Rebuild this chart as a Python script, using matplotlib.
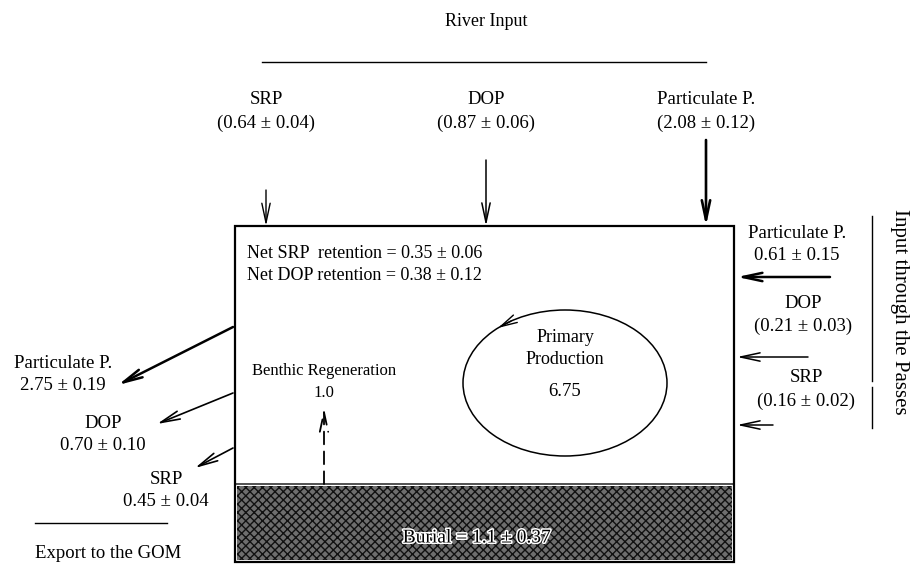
import numpy as np
import matplotlib.pyplot as plt
from matplotlib.patches import Rectangle, Ellipse
import matplotlib.patheffects as pe

plt.rcParams['font.family'] = ['Liberation Serif', 'DejaVu Serif']

# phosphorus budget values (labels as printed)
river_names = ['SRP', 'DOP', 'Particulate P.']
river_values = ['(0.64 ± 0.04)', '(0.87 ± 0.06)', '(2.08 ± 0.12)']
pass_names = ['Particulate P.', 'DOP', 'SRP']
pass_values = ['0.61 ± 0.15', '(0.21 ± 0.03)', '(0.16 ± 0.02)']
export_names = ['Particulate P.', 'DOP', 'SRP']
export_values = ['2.75 ± 0.19', '0.70 ± 0.10', '0.45 ± 0.04']
retention = ['Net SRP  retention = 0.35 ± 0.06', 'Net DOP retention = 0.38 ± 0.12']
primary_production = '6.75'
benthic = '1.0'
burial = 'Burial = 1.1 ± 0.37'

fig = plt.figure(figsize=(9.14, 5.67), dpi=100)
ax = fig.add_axes([0, 0, 1, 1])
ax.set_xlim(0, 914)
ax.set_ylim(567, 0)
ax.axis('off')

fs = 13.5
k = 'black'

def arrow(x0, y0, x1, y1, lw=1.0, ls='-', hw=0.3, hl=1.4):
    ax.annotate('', xy=(x1, y1), xytext=(x0, y0),
                arrowprops=dict(arrowstyle=f'->,head_length={hl},head_width={hw}',
                                lw=lw, color=k, linestyle=ls,
                                shrinkA=0, shrinkB=0))

# main box and sediment layer
ax.add_patch(Rectangle((235, 226), 499, 336, fill=False, lw=1.6, ec=k, zorder=3))
ax.add_patch(Rectangle((237, 486), 495, 74, fc='#6e6e6e', ec='#111111',
                       hatch='xxxx', lw=0))
ax.plot([235, 734], [484, 484], color='#333', lw=1.2)
ax.text(477, 538, burial, ha='center', va='center', fontsize=14, color=k,
        path_effects=[pe.withStroke(linewidth=2.2, foreground='white')])

# river input
ax.text(486, 22, 'River Input', ha='center', va='center', fontsize=13)
ax.plot([262, 706], [62, 62], color=k, lw=1)
river_x = [266, 486, 706]
river_top = [190, 160, 140]
river_lw = [1.0, 1.1, 1.9]
for x, name, val, y0, lw in zip(river_x, river_names, river_values, river_top, river_lw):
    ax.text(x, 99, name, ha='center', va='center', fontsize=fs)
    ax.text(x, 123, val, ha='center', va='center', fontsize=fs)
    arrow(x, y0, x, 226, lw=lw)

# retention text
ax.text(247, 253, retention[0], ha='left', va='center', fontsize=13)
ax.text(247, 275, retention[1], ha='left', va='center', fontsize=13)

# primary production loop
cx, cy, a, b = 565, 383, 102, 73
ax.add_patch(Ellipse((cx, cy), 2 * a, 2 * b, fill=False, lw=1.1, ec=k))
t0, t1 = np.radians(122), np.radians(131)
arrow(cx + a * np.cos(t0), cy - b * np.sin(t0), cx + a * np.cos(t1), cy - b * np.sin(t1),
      lw=1.0, hw=0.3, hl=1.2)
ax.text(cx, 338, 'Primary', ha='center', va='center', fontsize=13)
ax.text(cx, 360, 'Production', ha='center', va='center', fontsize=13)
ax.text(cx, 392, primary_production, ha='center', va='center', fontsize=fs)

# benthic regeneration
ax.text(324, 371, 'Benthic Regeneration', ha='center', va='center', fontsize=12)
ax.text(324, 393, benthic, ha='center', va='center', fontsize=12)
arrow(324, 484, 324, 408, lw=1.3, ls=(0, (7, 4)))

# input through the passes
pass_y = [(233, 255), (303, 326), (378, 401)]
pass_x = [797, 803, 806]
pass_arrow = [(830, 277, 1.8), (808, 357, 1.1), (773, 425, 1.1)]
for (y1, y2), x, name, val, (xa, ya, lw) in zip(pass_y, pass_x, pass_names, pass_values, pass_arrow):
    ax.text(x, y1, name, ha='center', va='center', fontsize=fs)
    ax.text(x, y2, val, ha='center', va='center', fontsize=fs)
    arrow(xa, ya, 737, ya, lw=lw)
ax.plot([872, 872], [216, 381], color=k, lw=1)
ax.plot([872, 872], [387, 428], color=k, lw=1)
ax.text(899, 312, 'Input through the Passes', ha='center', va='center',
        fontsize=15, rotation=270)

# export to the GOM
exp_x = [63, 103, 166]
exp_y = [(364, 386), (423, 445), (479, 502)]
exp_arrow = [(233, 327, 118, 385, 1.8), (233, 393, 157, 424, 1.2), (233, 448, 195, 468, 1.2)]
for x, (y1, y2), name, val, (x0, y0, x1, y1a, lw) in zip(exp_x, exp_y, export_names, export_values, exp_arrow):
    ax.text(x, y1, name, ha='center', va='center', fontsize=fs)
    ax.text(x, y2, val, ha='center', va='center', fontsize=fs)
    arrow(x0, y0, x1, y1a, lw=lw)
ax.plot([35, 167], [523, 523], color=k, lw=1)
ax.text(108, 553, 'Export to the GOM', ha='center', va='center', fontsize=fs)

fig.savefig('out.png', dpi=100)
